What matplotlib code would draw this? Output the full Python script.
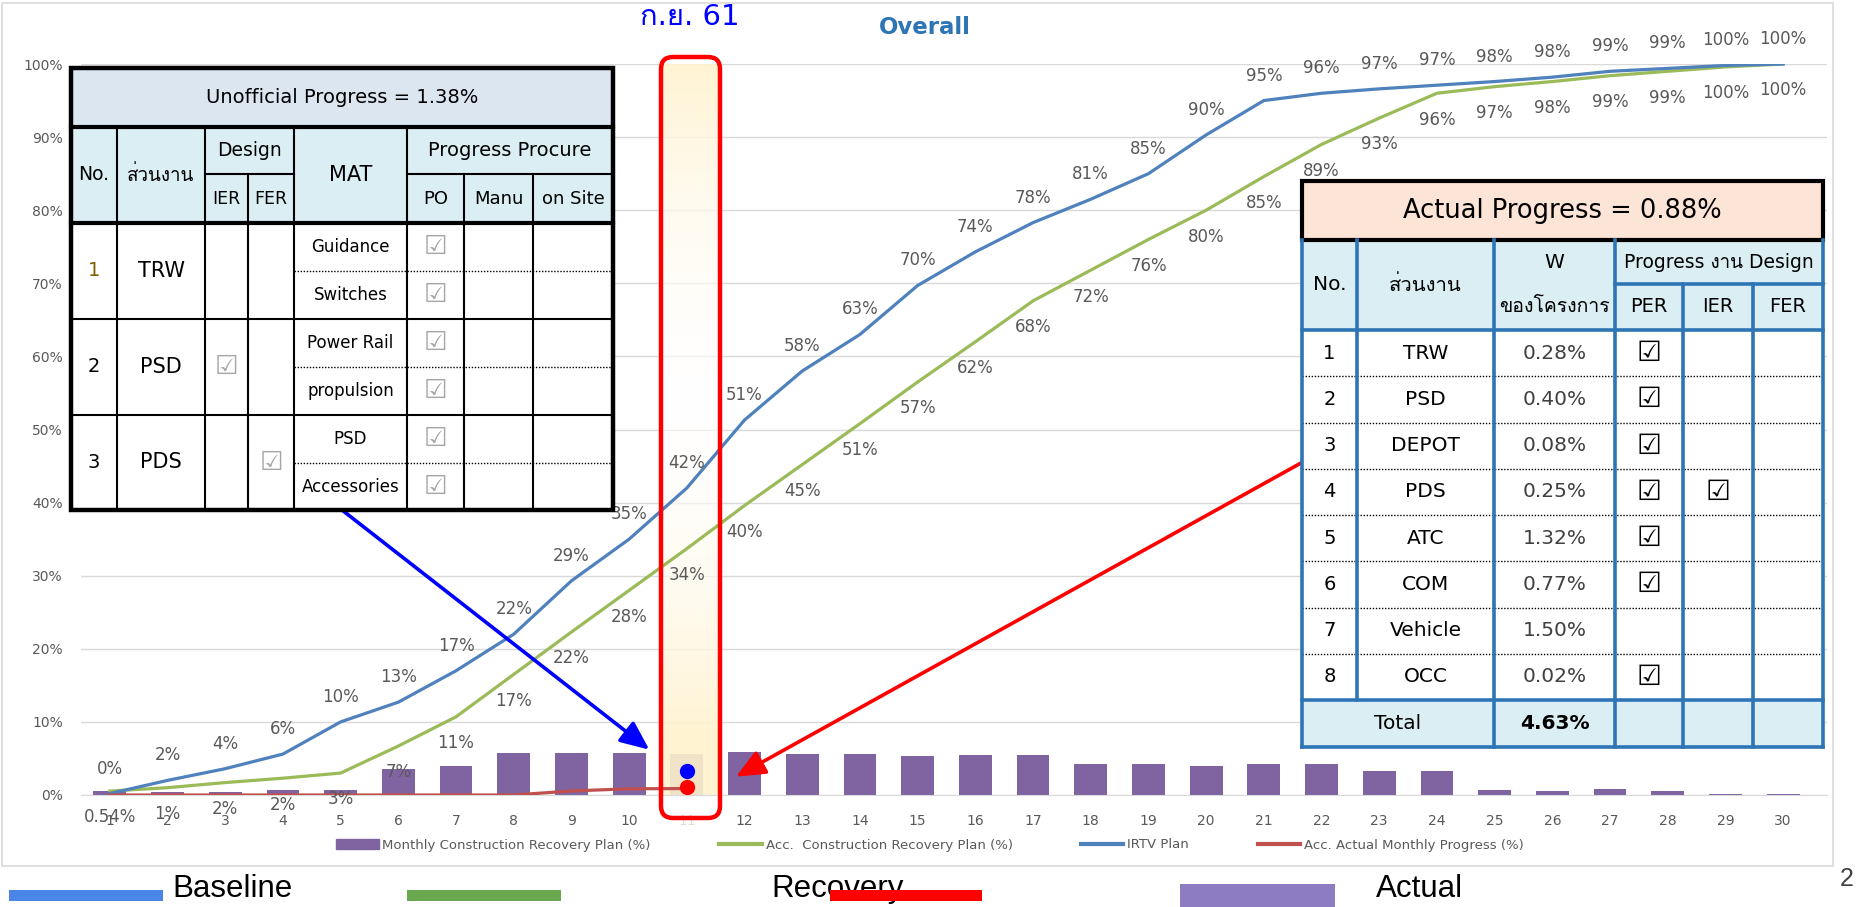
import matplotlib
matplotlib.use("Agg")
import matplotlib.pyplot as plt
from matplotlib import font_manager
from matplotlib.patches import Rectangle, FancyBboxPatch
from matplotlib.lines import Line2D
import numpy as np

# ---- values (percent) ----
months = list(range(1, 31))
monthly_plan = [0.5, 0.4, 0.4, 0.7, 0.7, 3.5, 4.0, 5.8, 5.7, 5.7,
                5.6, 5.9, 5.6, 5.6, 5.3, 5.5, 5.5, 4.2, 4.2, 3.9,
                4.3, 4.3, 3.3, 3.3, 0.7, 0.5, 0.8, 0.5, 0.2, 0.2]
recovery_acc = [0.54, 1.0, 1.7, 2.3, 3.0, 6.7, 10.7, 16.5, 22.3, 28.0,
                33.7, 39.6, 45.2, 50.8, 56.5, 62.0, 67.6, 71.8, 76.0, 80.0,
                84.6, 89.0, 92.6, 96.0, 96.9, 97.6, 98.4, 99.0, 99.6, 100.0]
recovery_labels = ["0.54%", "1%", "2%", "2%", "3%", "7%", "11%", "17%", "22%", "28%",
                   "34%", "40%", "45%", "51%", "57%", "62%", "68%", "72%", "76%", "80%",
                   "85%", "89%", "93%", "96%", "97%", "98%", "99%", "99%", "100%", "100%"]
irtv_plan = [0.2, 2.0, 3.6, 5.6, 10.0, 12.7, 17.0, 22.0, 29.3, 35.0,
             42.0, 51.3, 58.0, 63.0, 69.7, 74.3, 78.3, 81.5, 85.0, 90.3,
             95.0, 96.0, 96.6, 97.1, 97.6, 98.2, 99.0, 99.4, 99.8, 100.0]
irtv_labels = ["0%", "2%", "4%", "6%", "10%", "13%", "17%", "22%", "29%", "35%",
               "42%", "51%", "58%", "63%", "70%", "74%", "78%", "81%", "85%", "90%",
               "95%", "96%", "97%", "97%", "98%", "98%", "99%", "99%", "100%", "100%"]
actual_acc = [0, 0, 0, 0, 0, 0, 0, 0, 0.55, 0.85, 0.88]

current_month = 11
unofficial_dot = 3.3
actual_dot = 1.16

# left table (unofficial progress)
left_title = "Unofficial Progress = 1.38%"
left_groups = ["TRW", "PSD", "PDS"]
left_ier = [False, True, False]
left_fer = [False, False, True]
left_mat = [["Guidance", "Switches"], ["Power Rail", "propulsion"], ["PSD", "Accessories"]]

# right table (actual progress)
right_title = "Actual Progress = 0.88%"
right_names = ["TRW", "PSD", "DEPOT", "PDS", "ATC", "COM", "Vehicle", "OCC"]
right_weights = ["0.28%", "0.40%", "0.08%", "0.25%", "1.32%", "0.77%", "1.50%", "0.02%"]
right_per = [True, True, True, True, True, True, False, True]
right_ier = [False, False, False, True, False, False, False, False]
right_total = "4.63%"

PURPLE = "#8064A2"
GREEN = "#9BBB59"
BLUE = "#4F81BD"
RED = "#C0504D"
GREY = "#595959"
CHECK = "\u2611"


def pick_thai_font():
    from fontTools.ttLib import TTFont
    for entry in font_manager.fontManager.ttflist:
        try:
            font = TTFont(entry.fname, fontNumber=0, lazy=True)
            if 0x0E2A in font.getBestCmap():
                return entry.name
        except Exception:
            pass
    return None


thai = pick_thai_font()
TFONT = ["DejaVu Sans", thai] if thai else ["DejaVu Sans"]
plt.rcParams["font.family"] = TFONT

W, H = 1860, 907
fig = plt.figure(figsize=(W / 100, H / 100), dpi=100)
ax = fig.add_axes([81 / W, 1 - 795 / H, (1827 - 81) / W, (795 - 64) / H])
ov = fig.add_axes([0, 0, 1, 1], zorder=5)
ov.set_autoscale_on(False)
ov.set_xlim(0, W)
ov.set_ylim(H, 0)
ov.axis("off")

ax.bar(months, monthly_plan, width=0.57, color=PURPLE, zorder=2)
ax.plot(months, recovery_acc, color=GREEN, lw=2.3, zorder=3)
ax.plot(months, irtv_plan, color=BLUE, lw=2.3, zorder=3)
ax.plot(months[:len(actual_acc)], actual_acc, color=RED, lw=2.3, zorder=3)

for m, v, lbl in zip(months, irtv_plan, irtv_labels):
    ax.annotate(lbl, (m, v), xytext=(0, 18), textcoords="offset points", ha="center",
                va="center", fontsize=12, color=GREY, annotation_clip=False)
for m, v, lbl in zip(months, recovery_acc, recovery_labels):
    ax.annotate(lbl, (m, v), xytext=(0, -19), textcoords="offset points", ha="center",
                va="center", fontsize=12, color=GREY, annotation_clip=False)

ax.set_xticks(months)
ax.set_yticks(range(0, 101, 10))
ax.set_yticklabels([f"{v}%" for v in range(0, 101, 10)])
ax.tick_params(length=0, colors=GREY, labelsize=10)
ax.tick_params(axis="x", pad=14)
ax.tick_params(axis="y", pad=13)
ax.get_xticklabels()[current_month - 1].set_color("#E6DCCB")
ax.grid(axis="y", color="#D9D9D9", lw=1)
ax.set_axisbelow(True)
for s in ["top", "right", "left"]:
    ax.spines[s].set_visible(False)
ax.spines["bottom"].set_color("#D9D9D9")

handles = [Rectangle((0, 0), 1, 1, color=PURPLE),
           Line2D([], [], color=GREEN, lw=3),
           Line2D([], [], color=BLUE, lw=3),
           Line2D([], [], color=RED, lw=3)]
labels = ["Monthly Construction Recovery Plan (%)", "Acc.  Construction Recovery Plan (%)",
          "IRTV Plan", "Acc. Actual Monthly Progress (%)"]
ax.legend(handles, labels, ncol=4, loc="center", bbox_to_anchor=(930 / W, 1 - 845 / H),
          bbox_transform=fig.transFigure, frameon=False, fontsize=9.5, labelcolor=GREY,
          handlelength=3.2, handleheight=0.7, columnspacing=5.2, handletextpad=0.3)

# highlighted month: soft gradient behind the lines, red rounded frame on top
rx0, rx1, ry0, ry1 = 661, 720, 57, 818
mix = np.clip(np.abs(np.linspace(0, 1, 200) - 0.45) / 0.45, 0, 1) ** 1.5
img = np.ones((200, 1, 4))
img[:, 0, 1] = 1 - 0.05 * mix
img[:, 0, 2] = 1 - 0.2 * mix
img[:, 0, 3] = 0.6 + 0.3 * mix
clip_box = FancyBboxPatch((rx0, ry0), rx1 - rx0, ry1 - ry0, boxstyle="round,pad=0,rounding_size=12",
                          facecolor="none", edgecolor="none")
ov.add_patch(clip_box)
im = ax.imshow(img, extent=(rx0, rx1, ry1, ry0), aspect="auto", interpolation="bilinear",
               zorder=2.4, transform=ov.transData)
im.set_clip_path(clip_box)
im.set_clip_box(None)
ax.set_xlim(0.5, 30.76)
ax.set_ylim(0, 100)

ov.add_patch(FancyBboxPatch((rx0, ry0), rx1 - rx0, ry1 - ry0, boxstyle="round,pad=0,rounding_size=12",
                            facecolor="none", edgecolor="#FF0000", lw=3.2, zorder=3))
ov.plot([current_month], [unofficial_dot], "o", color="#0000FF", ms=10, transform=ax.transData, zorder=4)
ov.plot([current_month], [actual_dot], "o", color="#FF0000", ms=10, transform=ax.transData, zorder=4)

ov.add_patch(Rectangle((2, 3), 1831, 863, fill=False, edgecolor="#D9D9D9", lw=1.2))
ov.text(925, 28, "Overall", ha="center", va="center", fontsize=16.5, fontweight="bold",
        color="#2E75B6", family="DejaVu Sans")
ov.text(690, 17, "ก.ย. 61", ha="center", va="center", fontsize=21, color="#0000FF", family=TFONT)

arrow = dict(arrowstyle="-|>,head_length=0.8,head_width=0.35", lw=2.6, shrinkA=0, shrinkB=0,
             mutation_scale=22)
ov.annotate("", xy=(10.35, 6.2), xycoords=ax.transData, xytext=(342, 510), textcoords="data",
            arrowprops=dict(color="#0000FF", **arrow), zorder=4)
ov.annotate("", xy=(11.85, 2.5), xycoords=ax.transData, xytext=(1301, 463), textcoords="data",
            arrowprops=dict(color="#FF0000", **arrow), zorder=4)


def seg(x0, y0, x1, y1, color="black", lw=1.5, ls="-"):
    ov.add_line(Line2D([x0, x1], [y0, y1], color=color, lw=lw, ls=ls,
                       solid_capstyle="projecting", zorder=7))


def txt(x, y, s, size=14, color="black", weight="normal"):
    ov.text(x, y, s, ha="center", va="center", fontsize=size, color=color,
            fontweight=weight, family=TFONT, zorder=8)


# ---- left table ----
lc = [71, 117, 205, 248, 294, 407, 464, 533, 613]
lr = [68, 127, 174, 223, 271, 319, 367, 415, 463, 510]
ov.add_patch(Rectangle((lc[0], lr[0]), lc[-1] - lc[0], lr[1] - lr[0], fc="#DCE6F1", ec="none", zorder=6))
ov.add_patch(Rectangle((lc[0], lr[1]), lc[-1] - lc[0], lr[3] - lr[1], fc="#DAEEF3", ec="none", zorder=6))
ov.add_patch(Rectangle((lc[0], lr[3]), lc[-1] - lc[0], lr[-1] - lr[3], fc="white", ec="none", zorder=6))
for x in [lc[1], lc[2], lc[4], lc[5]]:
    seg(x, lr[1], x, lr[-1])
for x in [lc[3], lc[6], lc[7]]:
    seg(x, lr[2], x, lr[-1])
seg(lc[2], lr[2], lc[4], lr[2])
seg(lc[5], lr[2], lc[-1], lr[2])
seg(lc[0], lr[5], lc[-1], lr[5])
seg(lc[0], lr[7], lc[-1], lr[7])
seg(lc[0], lr[1], lc[-1], lr[1], lw=3)
seg(lc[0], lr[3], lc[-1], lr[3], lw=3)
for y in [lr[4], lr[6], lr[8]]:
    seg(lc[4], y, lc[-1], y, lw=1, ls=(0, (1, 1.2)))
ov.add_patch(Rectangle((lc[0], lr[0]), lc[-1] - lc[0], lr[-1] - lr[0], fill=False,
                       ec="black", lw=3.2, zorder=7))

txt((lc[0] + lc[-1]) / 2, (lr[0] + lr[1]) / 2, left_title, size=14)
hy = (lr[1] + lr[3]) / 2
txt((lc[0] + lc[1]) / 2, hy, "No.", size=13.5)
txt((lc[1] + lc[2]) / 2, hy, "ส่วนงาน", size=13.5)
txt((lc[2] + lc[4]) / 2, (lr[1] + lr[2]) / 2, "Design", size=13.5)
txt((lc[2] + lc[3]) / 2, (lr[2] + lr[3]) / 2, "IER", size=12.5)
txt((lc[3] + lc[4]) / 2, (lr[2] + lr[3]) / 2, "FER", size=12.5)
txt((lc[4] + lc[5]) / 2, hy, "MAT", size=15)
txt((lc[5] + lc[-1]) / 2, (lr[1] + lr[2]) / 2, "Progress Procure", size=14)
txt((lc[5] + lc[6]) / 2, (lr[2] + lr[3]) / 2, "PO", size=13)
txt((lc[6] + lc[7]) / 2, (lr[2] + lr[3]) / 2, "Manu", size=13)
txt((lc[7] + lc[8]) / 2, (lr[2] + lr[3]) / 2, "on Site", size=13)
for g, name in enumerate(left_groups):
    y0, ym, y1 = lr[3 + 2 * g], lr[4 + 2 * g], lr[5 + 2 * g]
    yc = (y0 + y1) / 2
    txt((lc[0] + lc[1]) / 2, yc, str(g + 1), size=14, color="#7F6000" if g == 0 else "black")
    txt((lc[1] + lc[2]) / 2, yc, name, size=15)
    if left_ier[g]:
        txt((lc[2] + lc[3]) / 2, yc, CHECK, size=19, color="#A6A6A6")
    if left_fer[g]:
        txt((lc[3] + lc[4]) / 2, yc, CHECK, size=19, color="#A6A6A6")
    for k, (ya, yb) in enumerate([(y0, ym), (ym, y1)]):
        txt((lc[4] + lc[5]) / 2, (ya + yb) / 2, left_mat[g][k], size=12)
        txt((lc[5] + lc[6]) / 2, (ya + yb) / 2, CHECK, size=19, color="#A6A6A6")

# ---- right table ----
rc = [1302, 1357, 1494, 1615, 1683, 1753, 1823]
rt0, rt1, rsplit, rh1 = 181, 240, 284, 330
rtot, rbot = 700, 747
step = (rtot - rh1) / len(right_names)
rows = [rh1 + step * i for i in range(len(right_names) + 1)]
LB = "#2E75B6"
ov.add_patch(Rectangle((rc[0], rt0), rc[-1] - rc[0], rt1 - rt0, fc="#FCE4D6", ec="black", lw=3, zorder=7))
ov.add_patch(Rectangle((rc[0], rt1), rc[-1] - rc[0], rh1 - rt1, fc="#DAEEF3", ec="none", zorder=6))
ov.add_patch(Rectangle((rc[0], rh1), rc[-1] - rc[0], rtot - rh1, fc="white", ec="none", zorder=6))
ov.add_patch(Rectangle((rc[0], rtot), rc[-1] - rc[0], rbot - rtot, fc="#DAEEF3", ec="none", zorder=6))
for y in rows[1:-1]:
    seg(rc[0], y, rc[-1], y, lw=1, ls=(0, (1, 1.2)))
for x in [rc[0], rc[2], rc[3], rc[-1]]:
    seg(x, rt1, x, rbot, color=LB, lw=2.6)
seg(rc[1], rt1, rc[1], rtot, color=LB, lw=2.6)
for x in [rc[4], rc[5]]:
    seg(x, rsplit, x, rbot, color=LB, lw=2.6)
seg(rc[3], rsplit, rc[-1], rsplit, color=LB, lw=2.6)
for y in [rh1, rtot, rbot]:
    seg(rc[0], y, rc[-1], y, color=LB, lw=2.6)

txt((rc[0] + rc[-1]) / 2, (rt0 + rt1) / 2, right_title, size=18.5)
hy = (rt1 + rh1) / 2
txt((rc[0] + rc[1]) / 2, hy, "No.", size=14.5)
txt((rc[1] + rc[2]) / 2, hy, "ส่วนงาน", size=14.5)
txt((rc[2] + rc[3]) / 2, (rt1 + rsplit) / 2, "W", size=14.5)
txt((rc[2] + rc[3]) / 2, (rsplit + rh1) / 2, "ของโครงการ", size=14)
txt((rc[3] + rc[-1]) / 2, (rt1 + rsplit) / 2, "Progress งาน Design", size=13.5)
for i, s in enumerate(["PER", "IER", "FER"]):
    txt((rc[3 + i] + rc[4 + i]) / 2, (rsplit + rh1) / 2, s, size=14)
for i, name in enumerate(right_names):
    yc = (rows[i] + rows[i + 1]) / 2
    txt((rc[0] + rc[1]) / 2, yc, str(i + 1), size=14)
    txt((rc[1] + rc[2]) / 2, yc, name, size=14.5)
    txt((rc[2] + rc[3]) / 2, yc, right_weights[i], size=14.5, color="#404040")
    if right_per[i]:
        txt((rc[3] + rc[4]) / 2, yc, CHECK, size=20, weight="bold")
    if right_ier[i]:
        txt((rc[4] + rc[5]) / 2, yc, CHECK, size=20, weight="bold")
txt((rc[0] + rc[2]) / 2, (rtot + rbot) / 2, "Total", size=14.5)
txt((rc[2] + rc[3]) / 2, (rtot + rbot) / 2, right_total, size=14.5, weight="bold")

# ---- bottom legend below the frame ----
NARROW = ["Liberation Sans Narrow", "Liberation Sans", "DejaVu Sans"]
ov.add_patch(Rectangle((9, 890), 154, 11, fc="#4A86E8", ec="none"))
ov.text(172, 889, "Baseline", ha="left", va="center", fontsize=22.5, family=NARROW)
ov.add_patch(Rectangle((407, 890), 154, 11, fc="#6AA84F", ec="none"))
ov.text(771, 889, "Recovery", ha="left", va="center", fontsize=22.5, family=NARROW)
ov.add_patch(Rectangle((830, 890), 152, 11, fc="#FF0000", ec="none", zorder=3))
ov.add_patch(Rectangle((1180, 884), 155, 23, fc="#8E7CC3", ec="none"))
ov.text(1376, 889, "Actual", ha="left", va="center", fontsize=22.5, family=NARROW)
ov.text(1847, 879, "2", ha="center", va="center", fontsize=18, family=NARROW, color="#404040")

ov.set_xlim(0, W)
ov.set_ylim(H, 0)
fig.savefig("out.png", dpi=100)
